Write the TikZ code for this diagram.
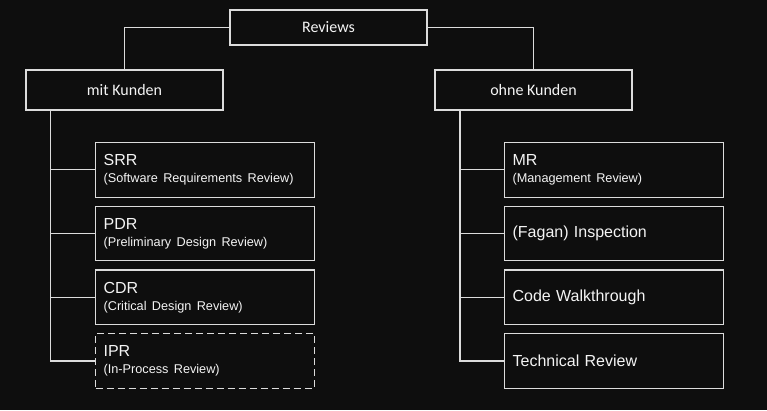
\documentclass[tikz,border=0pt]{standalone}
\usepackage{fontspec}
\setmainfont{Liberation Sans}
\newfontfamily\calfont{Carlito}
\usepackage{tikz}
\usetikzlibrary{positioning}
\definecolor{bg}{HTML}{0E0E0E}
\definecolor{wire}{HTML}{DCDCDC}
\definecolor{ink}{HTML}{F4F4F4}
\newcommand{\subline}[1]{{\fontsize{12.7}{17}\selectfont #1}}
\tikzset{
  every node/.style={text=ink},
  group/.style={draw=wire,line width=1.2pt,fill=bg,minimum width=197pt,font=\calfont\fontsize{16}{19}\selectfont,inner sep=0pt},
  kind/.style={draw=wire,line width=1.2pt,fill=bg,minimum width=219pt,minimum height=54.5pt,text width=203pt,align=left,inner xsep=8pt,inner ysep=0pt,font=\fontsize{16}{17}\selectfont},
  optkind/.style={kind,dash pattern=on 7pt off 4pt},
  tree/.style={draw=wire,line width=1.2pt}
}
\begin{document}
\begin{tikzpicture}[x=1pt,y=1pt,node distance=8pt]
  \fill[bg] (0,0) rectangle (767,410);
  \useasboundingbox (0,0) rectangle (767,410);

  \node[group,minimum height=35pt] (rev) at (328.5,382.5) {Reviews};
  \node[group,minimum height=40pt] (mit) at (124.5,320) {mit Kunden};
  \node[group,minimum height=40pt] (ohne) at (533.5,320) {ohne Kunden};
  \draw[tree] (rev.west) -| (mit.north);
  \draw[tree] (rev.east) -| (ohne.north);

  % mit Kunden
  \node[kind,anchor=north west] (srr) at (95,268) {SRR\\\subline{(Software Requirements Review)}};
  \node[kind,below=of srr] (pdr) {PDR\\\subline{(Preliminary Design Review)}};
  \node[kind,below=of pdr] (cdr) {CDR\\\subline{(Critical Design Review)}};
  \node[optkind,below=of cdr] (ipr) {IPR\\\subline{(In-Process Review)}};
  \foreach \n in {srr,pdr,cdr,ipr} {\draw[tree] ([xshift=25pt]mit.south west) |- (\n.west);}

  % ohne Kunden
  \node[kind,anchor=north west] (mr) at (504,268) {MR\\\subline{(Management Review)}};
  \node[kind,below=of mr] (fagan) {(Fagan) Inspection};
  \node[kind,below=of fagan] (walk) {Code Walkthrough};
  \node[kind,below=of walk] (tech) {Technical Review};
  \foreach \n in {mr,fagan,walk,tech} {\draw[tree] ([xshift=25.5pt]ohne.south west) |- (\n.west);}
\end{tikzpicture}
\end{document}
